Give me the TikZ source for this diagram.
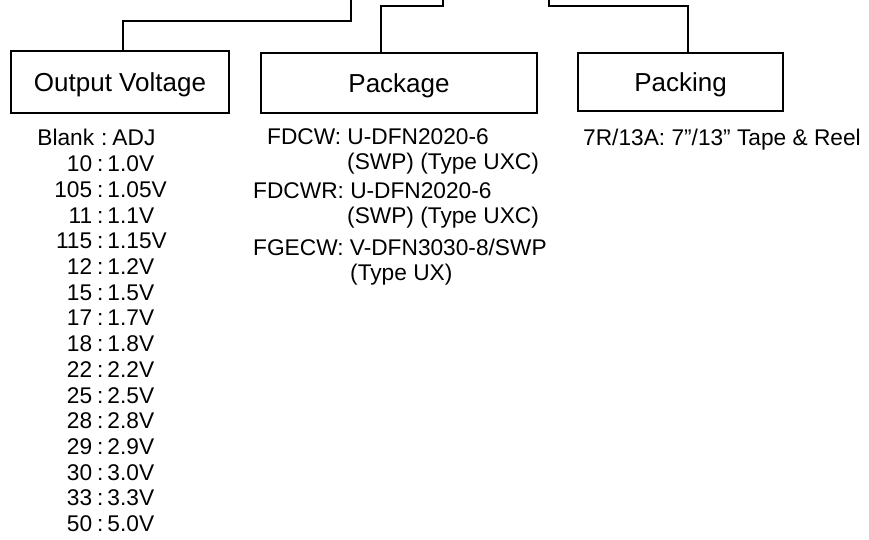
\documentclass[tikz,border=0pt]{standalone}
\usepackage{fontspec}
\setmainfont{Liberation Sans}
\begin{document}
\begin{tikzpicture}[x=1pt,y=-1pt,
  box/.style={draw,line width=1.9pt,inner sep=0pt,text height=20pt,text depth=0pt,
              font=\fontsize{26}{30}\selectfont},
  conn/.style={line width=1.6pt},
  item/.style={anchor=base west,inner sep=0pt,font=\fontsize{22.7}{26}\selectfont}]
\useasboundingbox (0,0) rectangle (869,540);

% boxes
\node[box,minimum width=218pt,minimum height=62pt] (ov)  at (120,82)   {Output Voltage};
\node[box,minimum width=276pt,minimum height=60pt] (pkg) at (399,83)   {Package};
\node[box,minimum width=205pt,minimum height=58pt] (pck) at (680.5,82) {Packing};

% connectors
\coordinate (t1) at (351,0);
\coordinate (t2) at (443,0);
\coordinate (t3) at (549,0);
\coordinate (j1) at (351,21);
\coordinate (j2) at (443,6);
\coordinate (j3) at (549,6);
\draw[conn] (t1) -- (j1) -| ([xshift=3pt]ov.north);
\draw[conn] (t2) -- (j2) -| ([xshift=-18pt]pkg.north);
\draw[conn] (t3) -- (j3) -| ([xshift=7.5pt]pck.north);

% output voltage list
\node[item] (v0) at (34,146) {\makebox[60pt][r]{Blank}\hspace{7pt}:\hspace{5pt}ADJ};
\foreach \a/\b [count=\i] in {10/1.0V,105/1.05V,11/1.1V,115/1.15V,12/1.2V,15/1.5V,
   17/1.7V,18/1.8V,22/2.2V,25/2.5V,28/2.8V,29/2.9V,30/3.0V,33/3.3V,50/5.0V}{
  \node[item] (v\i) at (52,146+25.7*\i) {\makebox[40pt][r]{\a}\hspace{5pt}:\hspace{4pt}\b};
}

% package list
\node[item] (p1)  at (267,145) {FDCW: U-DFN2020-6};
\node[item] (p1b) at (347,170) {(SWP) (Type UXC)};
\node[item] (p2)  at (253,198) {FDCWR: U-DFN2020-6};
\node[item] (p2b) at (347,223) {(SWP) (Type UXC)};
\node[item] (p3)  at (253,255) {FGECW: V-DFN3030-8/SWP};
\node[item] (p3b) at (350,280) {(Type UX)};

% packing
\node[item] (k1) at (583,146) {7R/13A: 7”/13” Tape \& Reel};
\end{tikzpicture}
\end{document}
